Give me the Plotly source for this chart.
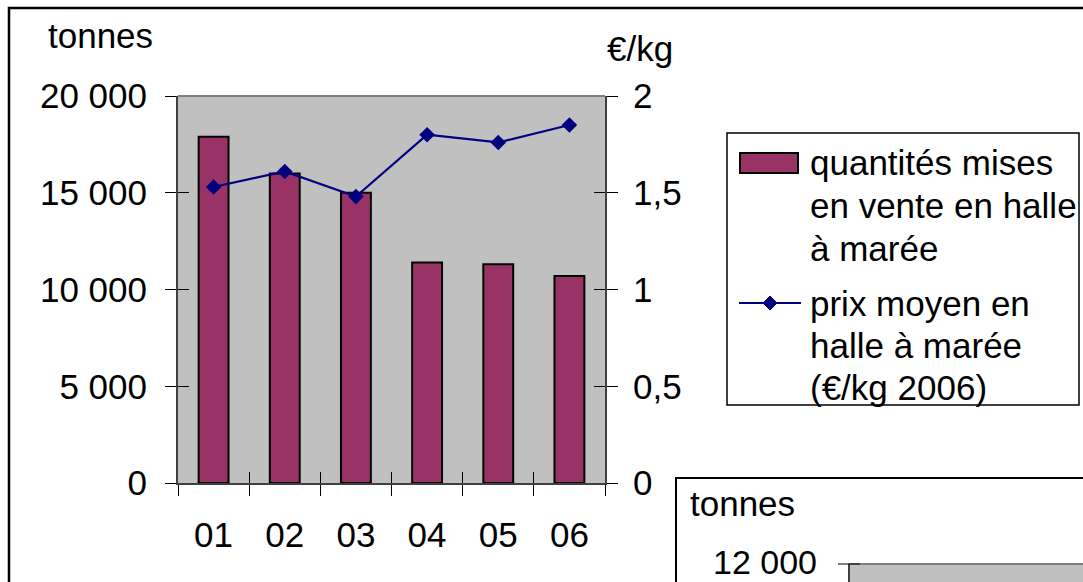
import plotly.graph_objects as go

# Annual series (years 2001-2006)
years = ["01", "02", "03", "04", "05", "06"]
tonnes = [17900, 16000, 15000, 11400, 11300, 10700]
prix = [1.53, 1.61, 1.48, 1.80, 1.76, 1.85]

left_ticks = [0, 5000, 10000, 15000, 20000]
left_ticktext = ["0", "5 000", "10 000", "15 000", "20 000"]
right_ticks = [0, 0.5, 1, 1.5, 2]
right_ticktext = ["0", "0,5", "1", "1,5", "2"]

legend_bar = ["quantités mises", "en vente en halle", "à marée"]
legend_line = ["prix moyen en", "halle à marée", "(€/kg 2006)"]

W, H = 1083, 582
FONT = "Liberation Sans, Arial, sans-serif"
FS = 35
BAR = "#993366"
NAVY = "#000080"
GREY_BG = "#C0C0C0"
AXIS = "#404040"


def px(x):
    return x / W


def py(y):
    return 1 - y / H


fig = go.Figure()

fig.add_trace(go.Bar(
    x=years, y=tonnes, xaxis="x", yaxis="y",
    marker=dict(color=BAR, line=dict(color="black", width=2)),
    showlegend=False, hoverinfo="x+y",
))
fig.add_trace(go.Scatter(
    x=years, y=prix, xaxis="x", yaxis="y2", mode="lines+markers",
    line=dict(color=NAVY, width=2.2),
    marker=dict(symbol="diamond", size=12, color=NAVY),
    showlegend=False,
))
# invisible carriers so the overlay axes (inner tick halves) are drawn
fig.add_trace(go.Scatter(x=years, y=tonnes, xaxis="x2", yaxis="y3", mode="markers",
                         marker=dict(opacity=0), hoverinfo="skip", showlegend=False))
fig.add_trace(go.Scatter(x=years, y=prix, xaxis="x2", yaxis="y4", mode="markers",
                         marker=dict(opacity=0), hoverinfo="skip", showlegend=False))

xdom = [px(178), px(605)]
ydom = [py(483), py(96)]
tickfont = dict(family=FONT, size=FS, color="black")

fig.update_layout(
    template="none",
    width=W, height=H,
    margin=dict(l=0, r=0, t=0, b=0, pad=0, autoexpand=False),
    paper_bgcolor="white",
    plot_bgcolor=GREY_BG,
    bargap=0.58,
    font=dict(family=FONT, size=FS, color="black"),
    xaxis=dict(
        domain=xdom, anchor="y", type="category", categoryorder="array",
        categoryarray=years, tickson="boundaries", ticks="outside", ticklen=11,
        tickwidth=1, tickcolor="black", showline=True, linecolor=AXIS, linewidth=2,
        showgrid=False, tickfont=tickfont, ticklabelstandoff=20, automargin=False,
    ),
    xaxis2=dict(
        domain=xdom, anchor="y", overlaying="x", matches="x", type="category",
        categoryorder="array", categoryarray=years, tickson="boundaries",
        ticks="inside", ticklen=11, tickwidth=1, tickcolor="black",
        showticklabels=False, showline=False, showgrid=False, automargin=False,
    ),
    yaxis=dict(
        domain=ydom, anchor="x", range=[0, 20000], tickvals=left_ticks,
        ticktext=left_ticktext, ticks="outside", ticklen=11, tickwidth=1,
        tickcolor="black", showline=True, linecolor=AXIS, linewidth=2,
        showgrid=False, zeroline=False, tickfont=tickfont, ticklabelstandoff=11,
        automargin=False,
    ),
    yaxis2=dict(
        anchor="x", overlaying="y", side="right", range=[0, 2], tickvals=right_ticks,
        ticktext=right_ticktext, ticks="outside", ticklen=11, tickwidth=1,
        tickcolor="black", showline=True, linecolor=AXIS, linewidth=2,
        showgrid=False, zeroline=False, tickfont=tickfont, ticklabelstandoff=8,
        automargin=False,
    ),
    yaxis3=dict(
        anchor="x", overlaying="y", side="left", range=[0, 20000], tickvals=left_ticks,
        ticks="inside", ticklen=11, tickwidth=1, tickcolor="black",
        showticklabels=False, showline=False, showgrid=False, zeroline=False,
        automargin=False,
    ),
    yaxis4=dict(
        anchor="x", overlaying="y", side="right", range=[0, 2], tickvals=right_ticks,
        ticks="inside", ticklen=11, tickwidth=1, tickcolor="black",
        showticklabels=False, showline=False, showgrid=False, zeroline=False,
        automargin=False,
    ),
)

shapes = []
# outer chart frame
shapes.append(dict(type="rect", xref="paper", yref="paper",
                   x0=px(9), x1=px(1120), y0=py(8), y1=py(620),
                   line=dict(color="black", width=2.5), fillcolor="rgba(0,0,0,0)"))
# grey border along the top of the plot area
shapes.append(dict(type="line", xref="paper", yref="paper",
                   x0=px(178), x1=px(605), y0=py(96), y1=py(96),
                   line=dict(color="#808080", width=2)))

# legend box
shapes.append(dict(type="rect", xref="paper", yref="paper",
                   x0=px(727), x1=px(1079), y0=py(133), y1=py(405),
                   line=dict(color="black", width=1.5), fillcolor="white"))
shapes.append(dict(type="rect", xref="paper", yref="paper",
                   x0=px(740), x1=px(798), y0=py(153), y1=py(173),
                   line=dict(color="black", width=2), fillcolor=BAR))
shapes.append(dict(type="line", xref="paper", yref="paper",
                   x0=px(739), x1=px(801), y0=py(303), y1=py(303),
                   line=dict(color=NAVY, width=2)))
cx, cy, r = 770, 303, 7
shapes.append(dict(type="path", xref="paper", yref="paper",
                   path=f"M {px(cx - r)} {py(cy)} L {px(cx)} {py(cy - r)} "
                        f"L {px(cx + r)} {py(cy)} L {px(cx)} {py(cy + r)} Z",
                   line=dict(color=NAVY, width=1), fillcolor=NAVY))

# neighbouring chart panel (lower right)
shapes.append(dict(type="rect", xref="paper", yref="paper",
                   x0=px(676), x1=px(1120), y0=py(478), y1=py(620),
                   line=dict(color="black", width=2), fillcolor="white"))
shapes.append(dict(type="rect", xref="paper", yref="paper",
                   x0=px(849), x1=px(1120), y0=py(564), y1=py(620),
                   line=dict(width=0), fillcolor=GREY_BG))
shapes.append(dict(type="line", xref="paper", yref="paper",
                   x0=px(849), x1=px(1120), y0=py(564), y1=py(564),
                   line=dict(color="#808080", width=2)))
shapes.append(dict(type="line", xref="paper", yref="paper",
                   x0=px(849), x1=px(849), y0=py(564), y1=py(620),
                   line=dict(color=AXIS, width=2)))
shapes.append(dict(type="line", xref="paper", yref="paper",
                   x0=px(838), x1=px(860), y0=py(564), y1=py(564),
                   line=dict(color="black", width=1)))

annotations = []


def label(text, x, y, xanchor="left", size=FS):
    annotations.append(dict(text=text, x=px(x), y=py(y), xref="paper", yref="paper",
                            xanchor=xanchor, yanchor="middle", showarrow=False,
                            font=dict(family=FONT, size=size, color="black")))


label("tonnes", 46, 35)
label("€/kg", 605, 48)
for i, t in enumerate(legend_bar):
    label(t, 808, 162 + 43 * i)
for i, t in enumerate(legend_line):
    label(t, 808, 303 + 42 * i)
label("tonnes", 688, 503)
label("12 000", 819, 562, xanchor="right", size=34)

fig.update_layout(shapes=shapes, annotations=annotations)

fig.write_html("out.html")
